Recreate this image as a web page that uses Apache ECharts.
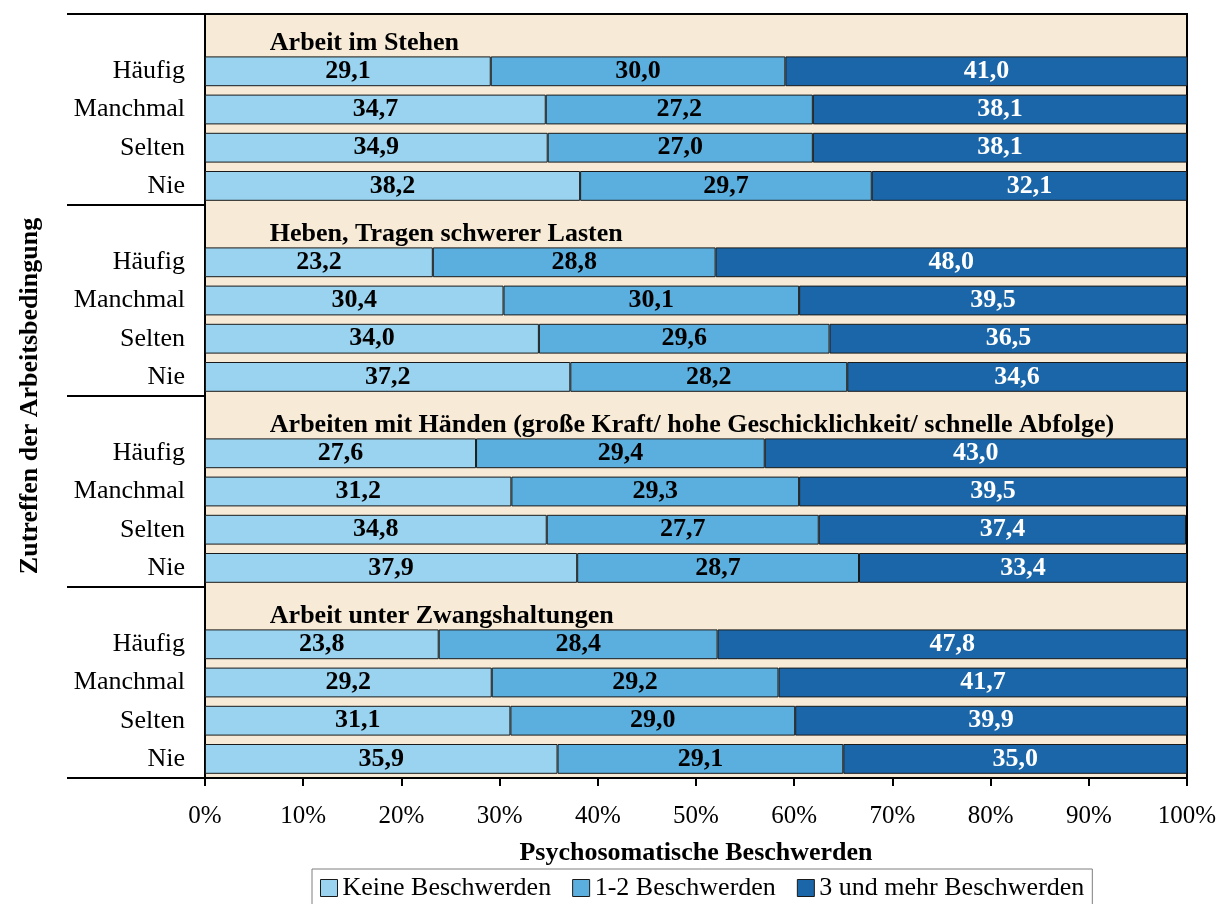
<!DOCTYPE html>
<html>
<head>
<meta charset="utf-8">
<script src="https://cdn.jsdelivr.net/npm/echarts@6/dist/echarts.min.js"></script>
<style>
  html, body { margin: 0; padding: 0; background: #fff; }
  #chart { width: 1217px; height: 904px; }
</style>
</head>
<body>
<div id="chart"></div>
<script>
// Working-condition groups (header rows) and their frequency levels
const groups = [
  'Arbeit im Stehen',
  'Heben, Tragen schwerer Lasten',
  'Arbeiten mit Händen (große Kraft/ hohe Geschicklichkeit/ schnelle Abfolge)',
  'Arbeit unter Zwangshaltungen'
];
const levels = ['Häufig', 'Manchmal', 'Selten', 'Nie'];

// Share of respondents (%) per group and level, in the order of `levels`
const keineBeschwerden = [
  29.1, 34.7, 34.9, 38.2,
  23.2, 30.4, 34.0, 37.2,
  27.6, 31.2, 34.8, 37.9,
  23.8, 29.2, 31.1, 35.9
];
const einsBisZwei = [
  30.0, 27.2, 27.0, 29.7,
  28.8, 30.1, 29.6, 28.2,
  29.4, 29.3, 27.7, 28.7,
  28.4, 29.2, 29.0, 29.1
];
const dreiUndMehr = [
  41.0, 38.1, 38.1, 32.1,
  48.0, 39.5, 36.5, 34.6,
  43.0, 39.5, 37.4, 33.4,
  47.8, 41.7, 39.9, 35.0
];

const seriesNames = ['Keine Beschwerden', '1-2 Beschwerden', '3 und mehr Beschwerden'];
const xTicks = [0, 10, 20, 30, 40, 50, 60, 70, 80, 90, 100];

// Position (in % along the value axis) where each group heading starts
const headerAt = 6.6;

// Build the category rows: one heading row followed by the four levels per group
const rowKeys = [];
const rowLabels = [];
const headerRows = [];
groups.forEach((g, gi) => {
  rowKeys.push('h' + gi);
  rowLabels.push('');
  headerRows.push(rowKeys.length - 1);
  levels.forEach((lv, li) => {
    rowKeys.push('r' + gi + '_' + li);
    rowLabels.push(lv);
  });
});

function spread(values) {
  const out = [];
  groups.forEach((g, gi) => {
    out.push('-');
    for (let li = 0; li < levels.length; li++) out.push(values[gi * levels.length + li]);
  });
  return out;
}

const FONT = '"Liberation Serif", "Times New Roman", serif';
const colors = ['#99D3EF', '#5BAFDE', '#1A66A8'];
const labelColors = ['#000', '#000', '#fff'];

function barSeries(name, values, idx) {
  return {
    name: name,
    type: 'bar',
    stack: 'total',
    barCategoryGap: '22%',
    data: spread(values),
    itemStyle: { color: colors[idx], borderColor: '#1a1a1a', borderWidth: 1 },
    label: {
      show: true,
      position: 'inside',
      fontFamily: FONT,
      fontSize: 26,
      fontWeight: 'bold',
      color: labelColors[idx],
      formatter: p => p.value.toFixed(1).replace('.', ',')
    },
    emphasis: { disabled: true },
    animation: false
  };
}

const chart = echarts.init(document.getElementById('chart'), null, { renderer: 'canvas' });

chart.setOption({
  backgroundColor: '#ffffff',
  animation: false,
  textStyle: { fontFamily: FONT },
  grid: {
    left: 205, right: 30, top: 14, bottom: 126,
    outerBoundsMode: 'none',
    containLabel: false,
    show: true,
    backgroundColor: '#F7EBD7',
    borderColor: '#000',
    borderWidth: 2
  },
  legend: {
    data: seriesNames,
    top: 869,
    left: 312,
    orient: 'horizontal',
    itemWidth: 17,
    itemHeight: 17,
    itemGap: 21,
    padding: [6, 8, 10, 8],
    borderColor: '#7f7f7f',
    borderWidth: 1,
    icon: 'rect',
    itemStyle: { borderColor: '#1a1a1a', borderWidth: 1 },
    textStyle: { fontFamily: FONT, fontSize: 26, color: '#000' }
  },
  xAxis: {
    type: 'value',
    min: 0,
    max: 100,
    interval: 10,
    name: 'Psychosomatische Beschwerden',
    nameLocation: 'middle',
    nameGap: 62,
    nameTextStyle: { fontFamily: FONT, fontSize: 26, fontWeight: 'bold', color: '#000' },
    axisLine: { show: true, lineStyle: { color: '#000', width: 2 } },
    axisTick: { show: true, length: 8, lineStyle: { color: '#000', width: 2 } },
    splitLine: { show: false },
    axisLabel: {
      fontFamily: FONT, fontSize: 25, color: '#000', margin: 26,
      formatter: v => (xTicks.indexOf(v) >= 0 ? v + '%' : '')
    }
  },
  yAxis: {
    type: 'category',
    inverse: true,
    data: rowKeys,
    name: 'Zutreffen der Arbeitsbedingung',
    nameLocation: 'middle',
    nameGap: 162,
    nameTextStyle: { fontFamily: FONT, fontSize: 26, fontWeight: 'bold', color: '#000' },
    axisLine: { show: true, lineStyle: { color: '#000', width: 2 } },
    axisTick: {
      show: true,
      length: 138,
      interval: (i) => i % (levels.length + 1) === 0,
      lineStyle: { color: '#000', width: 2 }
    },
    axisLabel: {
      interval: 0,
      fontFamily: FONT, fontSize: 26, color: '#000', margin: 20,
      formatter: (v, i) => rowLabels[i]
    }
  },
  series: [
    barSeries(seriesNames[0], keineBeschwerden, 0),
    barSeries(seriesNames[1], einsBisZwei, 1),
    barSeries(seriesNames[2], dreiUndMehr, 2),
    {
      // Group headings, placed in the heading row of each block
      name: 'Gruppen',
      type: 'scatter',
      symbolSize: 0,
      silent: true,
      itemStyle: { opacity: 1 },
      data: headerRows.map((r, gi) => ({ value: [headerAt, r], name: groups[gi] })),
      label: {
        show: true,
        position: 'right',
        distance: 0,
        offset: [0, 10],
        fontFamily: FONT,
        fontSize: 26,
        fontWeight: 'bold',
        color: '#000',
        opacity: 1,
        formatter: p => p.name
      },
      animation: false
    }
  ]
});
</script>
</body>
</html>
